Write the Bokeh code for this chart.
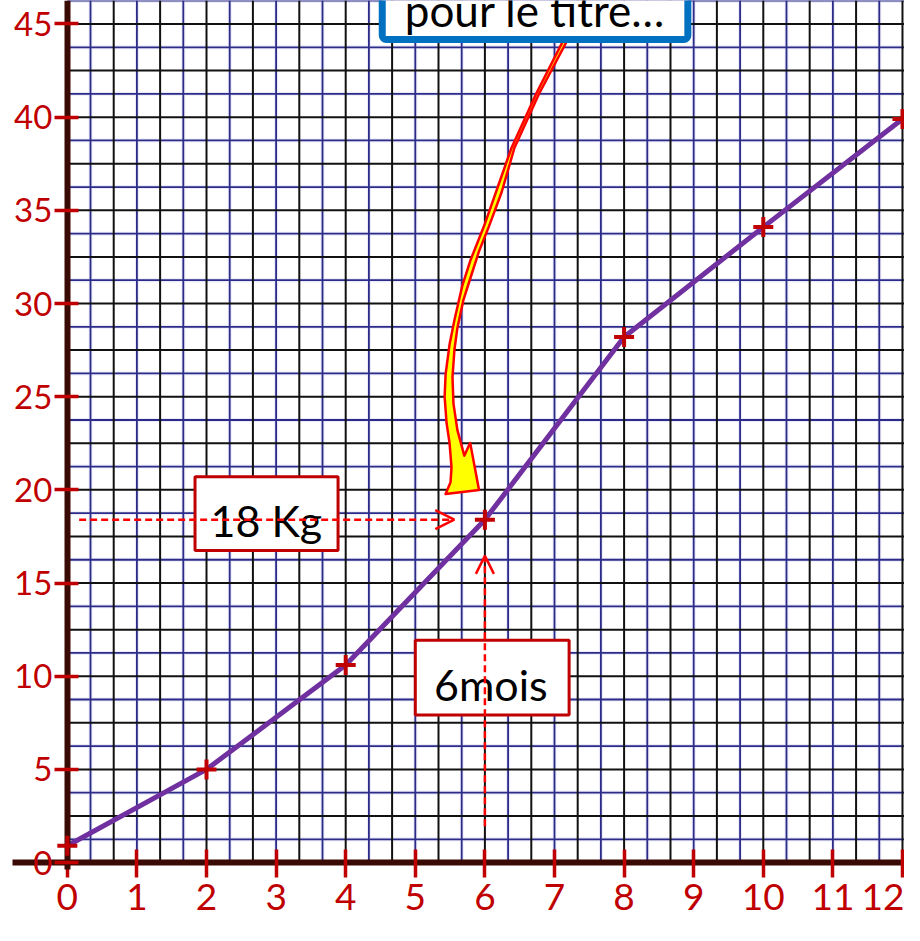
from bokeh.plotting import figure
from bokeh.models import Range1d, LinearAxis, FixedTicker, BoxAnnotation, Label, Arrow, OpenHead
from bokeh.embed import file_html
from bokeh.resources import INLINE
import numpy as np

# ---- data ----
months = [0, 2, 4, 6, 8, 10, 12]
weights = [0.9, 5.0, 10.6, 18.4, 28.2, 34.1, 39.9]
x_ticks = list(range(0, 13))
y_ticks = list(range(0, 50, 5))
title_text = "pour le titre…"
kg_text = "18 Kg"
mois_text = "6mois"

FONT = "Lato"
RED = "#c00000"
BRIGHT_RED = "#ff0000"
AXIS_DARK = "#3a0b05"

X0, X1 = -0.960, 12.029
Y0, Y1 = -3.376, 46.26

p = figure(width=904, height=925, x_range=Range1d(X0, X1), y_range=Range1d(Y0, Y1),
           x_axis_type=None, y_axis_type=None, toolbar_location=None,
           output_backend="svg", min_border=0, outline_line_color=None,
           background_fill_color="white", border_fill_color="white")

# ---- graph-paper grid (only in the first quadrant) ----
kx = np.arange(1, 37)
gx = kx / 3.0
ky = np.arange(1, 38)
gy = ky * 1.25

bx = gx[kx % 2 == 1]
kxb = gx[kx % 2 == 0]
by = gy[ky % 2 == 1]
kyb = gy[ky % 2 == 0]

# soft halo for the blue lines
p.segment(x0=bx, y0=0, x1=bx, y1=Y1, line_color="#ebebfa", line_width=4)
p.segment(x0=0, y0=by, x1=X1, y1=by, line_color="#ebebfa", line_width=4)
p.segment(x0=bx, y0=0, x1=bx, y1=Y1, line_color="#2c2c88", line_width=1.8)
p.segment(x0=0, y0=by, x1=X1, y1=by, line_color="#2c2c88", line_width=1.8)
p.segment(x0=kxb, y0=0, x1=kxb, y1=Y1, line_color="#111111", line_width=2)
p.segment(x0=0, y0=kyb, x1=X1, y1=kyb, line_color="#111111", line_width=2)

# ---- curved callout arrow (decorative) ----
arrow_px = [(572, 42), (545, 95), (520, 150), (493, 227), (478, 265), (470, 290), (462, 325),
            (457, 350), (453, 380), (452, 403), (454, 430), (457, 450), (459, 475), (458, 490),
            (453, 502), (487, 498), (478, 450), (472, 463), (465, 437), (461, 410), (460, 383),
            (462, 355), (465, 333), (471, 305), (478, 283), (487, 255), (497, 230), (510, 195),
            (523, 150), (548, 95), (576, 42)]
ax_ = [(a - 68) / 70.83 for a, b in arrow_px]
ay_ = [(877 - b) / 18.96 for a, b in arrow_px]
p.patch(ax_, ay_, fill_color="#ffff00", line_color=BRIGHT_RED, line_width=2.5, line_join="round")

# ---- series ----
p.line(months, weights, line_color="#7030a0", line_width=5)
p.scatter(months, weights, marker="cross", size=20, line_color=RED, line_width=4, level="overlay")

# ---- axes through the origin ----
xaxis = LinearAxis(fixed_location=0, ticker=FixedTicker(ticks=x_ticks), bounds=(-0.79, 12.03),
                   axis_line_color=AXIS_DARK, axis_line_width=6,
                   major_tick_line_color=RED, major_tick_line_width=3.5,
                   major_tick_in=13, major_tick_out=15,
                   minor_tick_line_color=None,
                   major_label_text_color=RED, major_label_text_font=FONT,
                   major_label_text_font_size="37px", major_label_standoff=6)
p.add_layout(xaxis, "below")

yaxis = LinearAxis(fixed_location=0, ticker=FixedTicker(ticks=y_ticks), bounds=(-0.35, Y1),
                   axis_line_color=AXIS_DARK, axis_line_width=6,
                   major_tick_line_color=RED, major_tick_line_width=3.5,
                   major_tick_in=11, major_tick_out=13,
                   minor_tick_line_color=None,
                   major_label_text_color=RED, major_label_text_font=FONT,
                   major_label_text_font_size="33px", major_label_standoff=2)
p.add_layout(yaxis, "left")

# ---- title callout box (cut by the top edge, as in the original) ----
p.add_layout(BoxAnnotation(left=4.525, right=8.916, bottom=44.17, top=50,
                           fill_color="white", fill_alpha=1, line_color="#0070c0",
                           line_alpha=1, line_width=7, border_radius=4))
p.add_layout(Label(x=6.72, y=45.75, text=title_text, text_font=FONT, text_font_size="44px",
                   text_color="black", text_align="center", text_baseline="alphabetic"))

# ---- 18 Kg box + dashed arrow ----
p.add_layout(BoxAnnotation(left=1.835, right=3.89, bottom=16.75, top=20.70,
                           fill_color="white", fill_alpha=1, line_color=RED,
                           line_alpha=1, line_width=3))
p.add_layout(Label(x=2.86, y=18.33, text=kg_text, text_font=FONT, text_font_size="43px",
                   text_color="black", text_align="center", text_baseline="alphabetic"))
p.add_layout(Arrow(x_start=0.17, y_start=weights[3], x_end=5.56, y_end=weights[3],
                   line_color=BRIGHT_RED, line_width=2.5, line_dash="7 4",
                   end=OpenHead(size=19, line_color=BRIGHT_RED, line_width=2.5)))

# ---- 6mois box + dashed arrow ----
p.add_layout(BoxAnnotation(left=5.0, right=7.21, bottom=7.92, top=11.93,
                           fill_color="white", fill_alpha=1, line_color=RED,
                           line_alpha=1, line_width=3))
p.add_layout(Label(x=6.085, y=9.57, text=mois_text, text_font=FONT, text_font_size="43px",
                   text_color="black", text_align="center", text_baseline="alphabetic"))
p.add_layout(Arrow(x_start=months[3], y_start=1.95, x_end=months[3], y_end=16.46,
                   line_color=BRIGHT_RED, line_width=2.5, line_dash="7 4",
                   end=OpenHead(size=18, line_color=BRIGHT_RED, line_width=2.5)))

open("out.html", "w").write(file_html(p, INLINE))
